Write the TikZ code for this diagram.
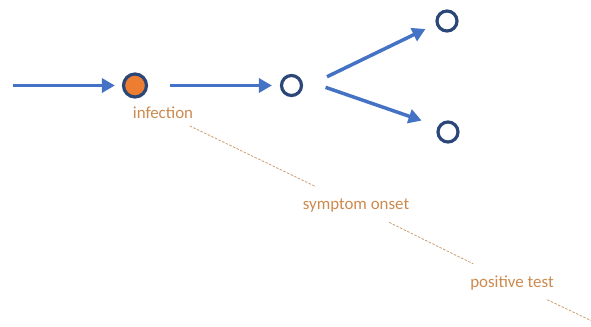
\documentclass[tikz,border=0pt]{standalone}
\usepackage{fontspec}
\setmainfont{Carlito}
\usepackage{xcolor}
\usetikzlibrary{arrows.meta}

\definecolor{flowblue}{HTML}{4472C4}
\definecolor{ringblue}{HTML}{2B4778}
\definecolor{infectorange}{HTML}{ED7D31}
\definecolor{labelbrown}{HTML}{CC8A4E}
\definecolor{dashtan}{HTML}{CD9D6E}

\begin{document}
\begin{tikzpicture}[
          x=1bp, y=-1bp,
          case/.style={draw=ringblue, circle, line width=3.2bp, inner sep=0pt, minimum size=20bp, fill=white},
          index/.style={case, fill=infectorange, minimum size=23bp},
          event/.style={text=labelbrown, font=\fontsize{16.9bp}{20bp}\selectfont, inner sep=2bp},
          arr/.style={-{Triangle[length=13bp,width=14bp]}, line width=3.5bp, draw=flowblue},
          timeline/.style={draw=dashtan, line width=0.8bp, dash pattern=on 2.5bp off 1.5bp}
      ]
        \useasboundingbox (0,0) rectangle (591,326);
        % transmission chain
        \coordinate (src) at (12.7,85.5);
        \node[index] (c1) at (135,85.5) {};
        \node[case] (c2) at (291.5,85.5) {};
        \node[case] (c3) at (447,21) {};
        \node[case] (c4) at (448,132) {};
        \draw[arr, shorten >=7bp] (src) -- (c1);
        \draw[arr, shorten <=22bp, shorten >=8bp] (c1) -- (c2);
        \draw[arr, shorten <=27bp, shorten >=11.5bp] (c2.-15) -- (c3.195);
        \draw[arr, shorten <=26bp, shorten >=17.3bp] (c2.35) -- (c4.150);
        % time line of the index case
        \node[event] (infection) at (163,113) {infection};
        \node[event] (onset) at (356,206) {symptom onset};
        \node[event] (test) at (512,283) {positive test};
        \coordinate (tail) at (591,320.5);
        \draw[timeline, shorten <=11bp, shorten >=24bp] (infection) -- (onset);
        \draw[timeline, shorten <=17bp, shorten >=22bp] (onset) -- (test);
        \draw[timeline, shorten <=17bp] (test) -- (tail);
      \end{tikzpicture}
\end{document}
